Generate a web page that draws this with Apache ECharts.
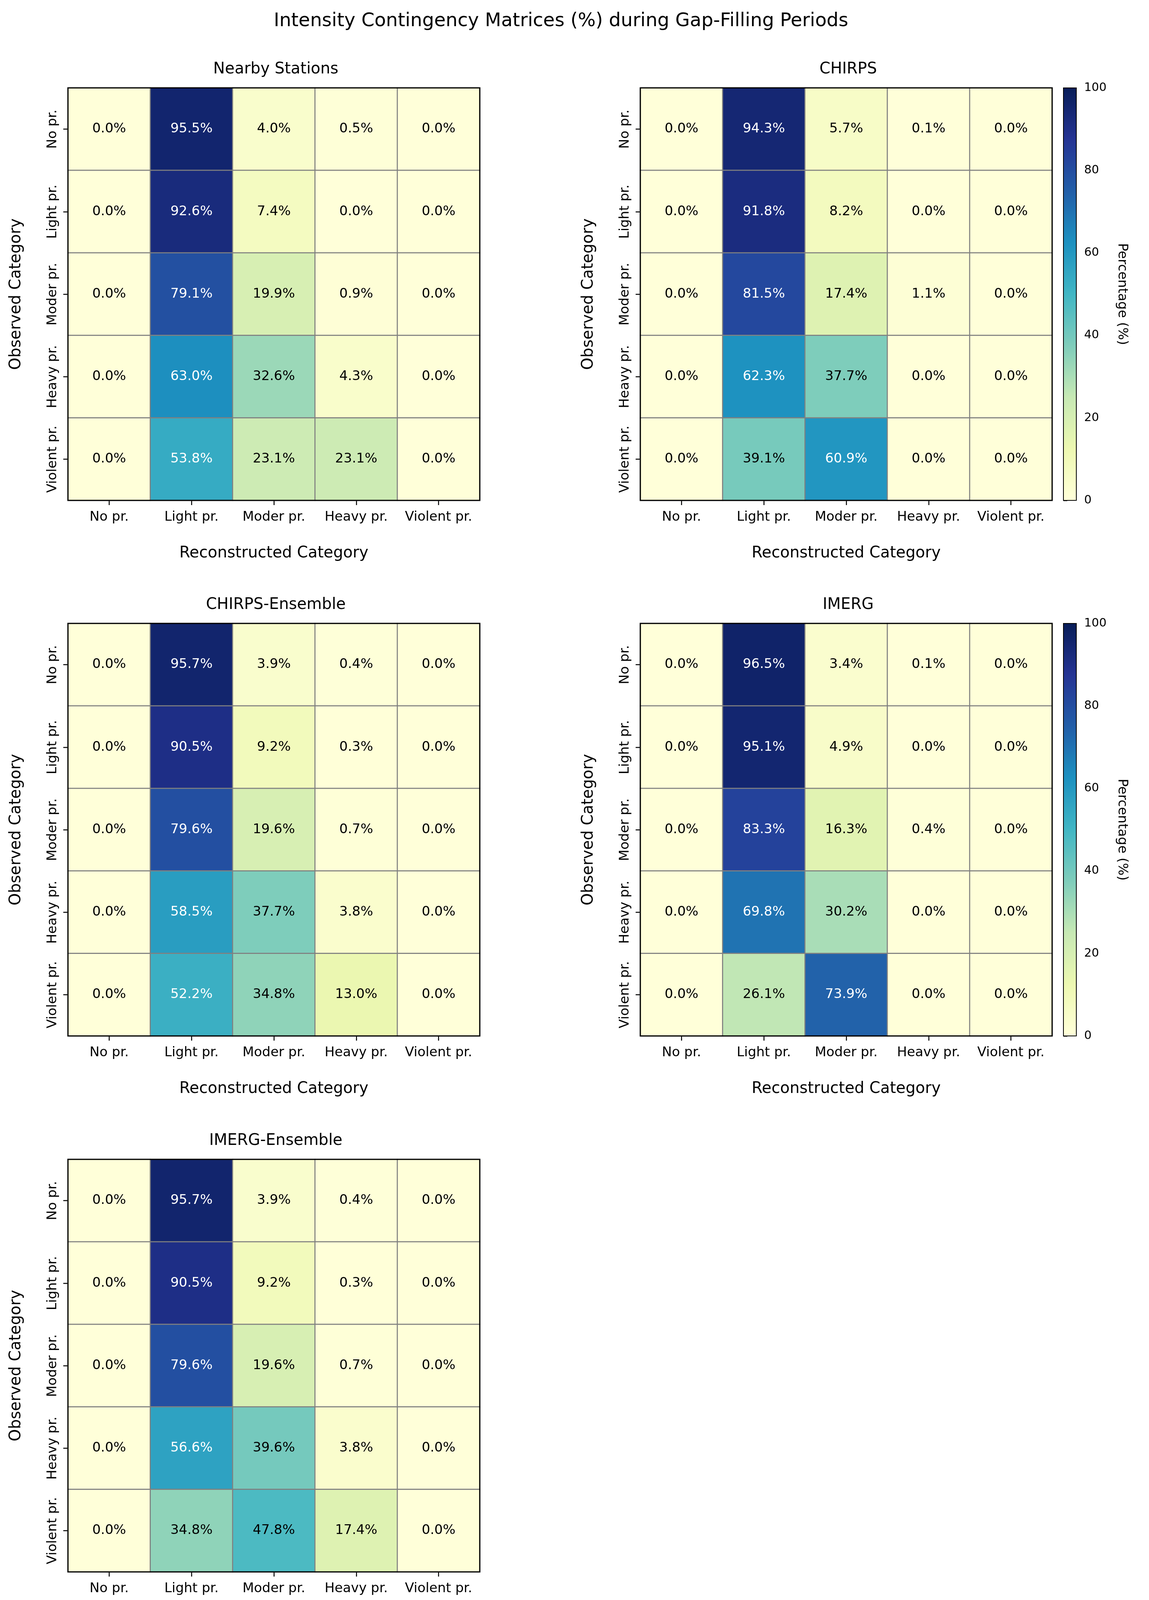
<!DOCTYPE html>
<html><head><meta charset="utf-8">
<script src="https://cdn.jsdelivr.net/npm/echarts@6/dist/echarts.min.js"></script>
<style>html,body{margin:0;background:#fff}#chart{width:2941px;height:4204px}</style>
</head><body><div id="chart"></div>
<script>
// categories
const cats = ['No pr.', 'Light pr.', 'Moder pr.', 'Heavy pr.', 'Violent pr.'];
const panelTitles = ['Nearby Stations', 'CHIRPS', 'CHIRPS-Ensemble', 'IMERG', 'IMERG-Ensemble'];
// rows = observed, cols = reconstructed
const nearby = [
  [0.0, 95.5, 4.0, 0.5, 0.0],
  [0.0, 92.6, 7.4, 0.0, 0.0],
  [0.0, 79.1, 19.9, 0.9, 0.0],
  [0.0, 63.0, 32.6, 4.3, 0.0],
  [0.0, 53.8, 23.1, 23.1, 0.0]
];
const chirps = [
  [0.0, 94.3, 5.7, 0.1, 0.0],
  [0.0, 91.8, 8.2, 0.0, 0.0],
  [0.0, 81.5, 17.4, 1.1, 0.0],
  [0.0, 62.3, 37.7, 0.0, 0.0],
  [0.0, 39.1, 60.9, 0.0, 0.0]
];
const chirpsEns = [
  [0.0, 95.7, 3.9, 0.4, 0.0],
  [0.0, 90.5, 9.2, 0.3, 0.0],
  [0.0, 79.6, 19.6, 0.7, 0.0],
  [0.0, 58.5, 37.7, 3.8, 0.0],
  [0.0, 52.2, 34.8, 13.0, 0.0]
];
const imerg = [
  [0.0, 96.5, 3.4, 0.1, 0.0],
  [0.0, 95.1, 4.9, 0.0, 0.0],
  [0.0, 83.3, 16.3, 0.4, 0.0],
  [0.0, 69.8, 30.2, 0.0, 0.0],
  [0.0, 26.1, 73.9, 0.0, 0.0]
];
const imergEns = [
  [0.0, 95.7, 3.9, 0.4, 0.0],
  [0.0, 90.5, 9.2, 0.3, 0.0],
  [0.0, 79.6, 19.6, 0.7, 0.0],
  [0.0, 56.6, 39.6, 3.8, 0.0],
  [0.0, 34.8, 47.8, 17.4, 0.0]
];
const matrices = [nearby, chirps, chirpsEns, imerg, imergEns];
const ylgnbu = ['#ffffd9', '#edf8b1', '#c7e9b4', '#7fcdbb', '#41b6c4', '#1d91c0', '#225ea8', '#253494', '#081d58'];

const FONT = 'DejaVu Sans';
const lefts = [174, 1639, 174, 1639, 174];
const tops = [225, 225, 1596, 1596, 2968];
const W = 1054, H = 1056;

const chart = echarts.init(document.getElementById('chart'));
const grid = [], xAxis = [], yAxis = [], series = [], title = [];
title.push({text: 'Intensity Contingency Matrices (%) during Gap-Filling Periods', left: 1431, top: 26,
  textAlign: 'center', textStyle: {fontFamily: FONT, fontSize: 48, fontWeight: 'normal', color: '#000'}});

matrices.forEach((m, i) => {
  grid.push({left: lefts[i], top: tops[i], width: W, height: H, show: true, borderColor: '#000', borderWidth: 3, backgroundColor: 'transparent', z: 10});
  title.push({text: panelTitles[i], left: lefts[i] + W / 2, top: tops[i] - 72, textAlign: 'center',
    textStyle: {fontFamily: FONT, fontSize: 40, fontWeight: 'normal', color: '#000'}});
  xAxis.push({type: 'category', gridIndex: i, data: cats, name: 'Reconstructed Category', nameLocation: 'middle', nameGap: 116,
    nameTextStyle: {fontFamily: FONT, fontSize: 40, color: '#000'},
    axisLine: {show: false}, axisTick: {show: true, alignWithLabel: true, interval: 0, length: 12, lineStyle: {color: '#000', width: 2.5}},
    axisLabel: {interval: 0, fontFamily: FONT, fontSize: 34, color: '#000', margin: 26}, splitLine: {show: false}});
  yAxis.push({type: 'category', gridIndex: i, data: cats, inverse: true, name: 'Observed Category', nameLocation: 'middle', nameGap: 112,
    nameTextStyle: {fontFamily: FONT, fontSize: 40, color: '#000'},
    axisLine: {show: false}, axisTick: {show: true, alignWithLabel: true, interval: 0, length: 12, lineStyle: {color: '#000', width: 2.5}},
    axisLabel: {interval: 0, fontFamily: FONT, fontSize: 34, color: '#000', rotate: 90, margin: 22, verticalAlign: 'bottom'}, splitLine: {show: false}});
  const data = [];
  m.forEach((row, r) => row.forEach((v, c) => {
    data.push({value: [c, r, v], label: {color: v > 50 ? '#fff' : '#000'}});
  }));
  series.push({type: 'heatmap', xAxisIndex: i, yAxisIndex: i, data: data,
    itemStyle: {borderColor: '#808080', borderWidth: 2.7},
    label: {show: true, fontFamily: FONT, fontSize: 34, formatter: p => p.value[2].toFixed(1) + '%'},
    emphasis: {disabled: true}});
});

// colorbar tick axes
const cbLeft = 2722, cbW = 33;
[1, 3].forEach(k => {
  const gi = grid.length;
  grid.push({left: cbLeft, top: tops[k], width: cbW, height: H, show: true, borderColor: '#000', borderWidth: 2,
    backgroundColor: 'transparent', z: 10});
  xAxis.push({type: 'value', gridIndex: gi, show: false, min: 0, max: 1});
  yAxis.push({type: 'value', gridIndex: gi, position: 'right', min: 0, max: 100, interval: 20,
    name: 'Percentage (%)', nameLocation: 'middle', nameGap: 100, nameRotate: -90,
    nameTextStyle: {fontFamily: FONT, fontSize: 34, color: '#000'},
    axisLine: {show: false}, axisTick: {show: true, length: 10, lineStyle: {color: '#000', width: 2.5}},
    axisLabel: {fontFamily: FONT, fontSize: 30, color: '#000', margin: 20}, splitLine: {show: false}});
  series.push({type: 'line', xAxisIndex: gi, yAxisIndex: gi, data: [], silent: true});
});

const vmBase = {type: 'continuous', min: 0, max: 100, calculable: false, show: true, showLabel: false, hoverLink: false,
  padding: 0, left: cbLeft, itemWidth: cbW, itemHeight: H, inRange: {color: ylgnbu}, textStyle: {fontSize: 0}};
const visualMap = [
  Object.assign({}, vmBase, {seriesIndex: [0, 1], top: tops[1]}),
  Object.assign({}, vmBase, {seriesIndex: [2, 3, 4], top: tops[3]})
];

chart.setOption({backgroundColor: '#fff', animation: false, title, grid, xAxis, yAxis, series, visualMap});
</script></body></html>
